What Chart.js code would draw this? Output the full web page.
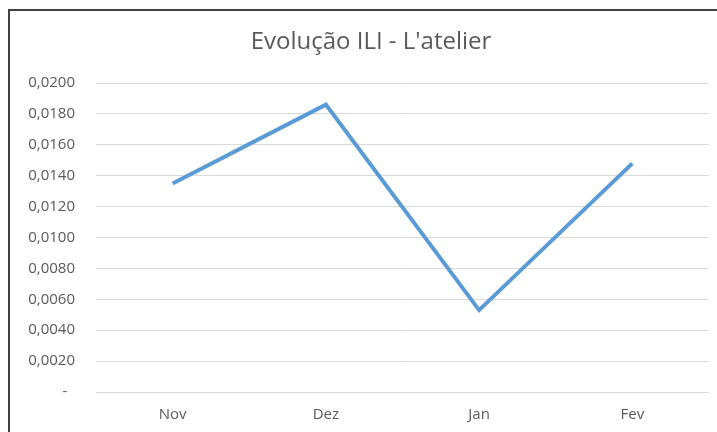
<!DOCTYPE html>
<html lang="pt">
<head>
    <meta charset="UTF-8">
    <title>Evolução ILI - L'atelier</title>
    <script src="https://cdn.jsdelivr.net/npm/chart.js"></script>
    <style>
        html, body {
            margin: 0;
            padding: 0;
            background: #fff;
            overflow: hidden;
        }

        .chart-box {
            position: absolute;
            left: 8px;
            top: 9px;
            width: 722px;
            height: 421px;
            border-left: 2px solid #404040;
            border-top: 2px solid #404040;
        }
    </style>
</head>
<body>
    <div class="chart-box">
        <canvas id="chart"></canvas>
    </div>

    <script>
        // valores
        const months = ['Nov', 'Dez', 'Jan', 'Fev'];
        const iliValues = [0.0135, 0.0186, 0.0053, 0.0148];
        const yMin = 0;
        const yMax = 0.02;
        const yStep = 0.002;

        const font = "'Open Sans', 'Noto Sans', sans-serif";
        const textColor = '#595959';

        function formatTick(value) {
            if (Math.abs(value) < 1e-9) return '-  ';
            return value.toFixed(4).replace('.', ',');
        }

        const ctx = document.getElementById('chart').getContext('2d');

        new Chart(ctx, {
            type: 'line',
            data: {
                labels: months,
                datasets: [{
                    label: 'ILI',
                    data: iliValues,
                    borderColor: '#5B9BD5',
                    backgroundColor: '#5B9BD5',
                    borderWidth: 4,
                    pointRadius: 0,
                    tension: 0,
                    fill: false
                }]
            },
            options: {
                responsive: true,
                maintainAspectRatio: false,
                animation: false,
                plugins: {
                    legend: { display: false },
                    tooltip: { enabled: false },
                    title: {
                        display: true,
                        text: "Evolução ILI - L'atelier",
                        color: textColor,
                        font: { family: font, size: 24, weight: 'normal' },
                        padding: { top: 16.5, bottom: 26.7 }
                    }
                },
                scales: {
                    x: {
                        offset: true,
                        grid: { display: false, drawTicks: false },
                        border: { display: false },
                        ticks: {
                            color: textColor,
                            font: { family: font, size: 15 },
                            padding: 14
                        },
                        afterFit: function(scale) {
                            scale.height = 40;
                        }
                    },
                    y: {
                        min: yMin,
                        max: yMax,
                        grid: { color: '#D9D9D9', lineWidth: 1, drawTicks: false },
                        border: { display: false },
                        ticks: {
                            stepSize: yStep,
                            color: textColor,
                            font: { family: font, size: 15 },
                            padding: 21,
                            callback: formatTick
                        },
                        afterFit: function(scale) {
                            scale.width = 86;
                        }
                    },
                    // espaço vazio à direita da área do gráfico
                    yRight: {
                        position: 'right',
                        min: yMin,
                        max: yMax,
                        grid: { display: false, drawTicks: false },
                        border: { display: false },
                        ticks: { display: false },
                        afterFit: function(scale) {
                            scale.width = 23;
                        }
                    }
                }
            }
        });
    </script>
</body>
</html>
